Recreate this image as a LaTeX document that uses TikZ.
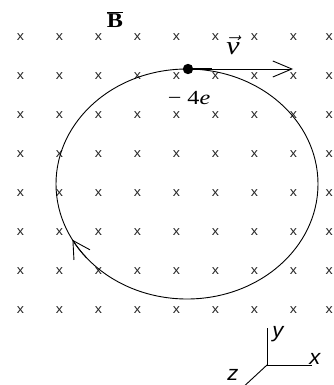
\documentclass[tikz,border=0pt]{standalone}
\usepackage{fontspec}
\setmainfont{Liberation Serif}
\newfontfamily\sansf{Liberation Sans}
\usetikzlibrary{arrows.meta,calc}
\tikzset{
  xmark/.style={inner sep=0pt, text=black!85, font=\sansf\fontsize{13}{14}\selectfont, xscale=1.1, transform shape},
  lbl/.style={inner sep=0pt, xscale=1.15, transform shape},
  axlbl/.style={inner sep=0pt, font=\sansf\itshape\fontsize{21}{23}\selectfont, xscale=1.05, transform shape},
  thinline/.style={line width=0.9pt, black}
}
\begin{document}
\begin{tikzpicture}[x=1pt,y=-1pt]
\useasboundingbox (0,0) rectangle (334,385);
% field marks
\foreach \i in {0,...,7}{
  \foreach \j in {0,...,7}{
    \node[xmark] (m\i-\j) at ({20.5+39*\i},{37.5+39*\j}) {x};
  }
}
\foreach \j in {0,...,7}{
  \node[xmark] (m8-\j) at (329.2,{37.5+39*\j}) {x};
}
% orbit
\coordinate (C) at (187,184);
\draw[thinline] (C) ellipse [x radius=131, y radius=115];
\coordinate (A0) at ($(C)+(140:131 and 115)$);
\draw[thinline, -{Straight Barb[length=17pt,width=19pt]}] (A0) arc[start angle=140, end angle=151, x radius=131, y radius=115];
% charge and velocity
\coordinate (Q) at (188,69);
\coordinate (V) at (293,69);
\coordinate (T) at (212,69);
\draw[line width=2pt] (Q) -- (T);
\draw[thinline, -{Straight Barb[length=19pt,width=16pt]}] (Q) -- (V);
\fill (Q) circle (5.2);
% labels
\node[lbl, font=\bfseries\fontsize{21}{23}\selectfont] (B) at (115,20) {$\overline{\mbox{\bfseries B}}$};
\node[lbl, font=\itshape\fontsize{26}{28}\selectfont] (v) at (233,45) {$\vec{\mbox{\itshape v}}$};
\node[lbl, font=\fontsize{20}{22}\selectfont, xscale=1.05] (q) at (189,98.5) {−\hspace{5pt}4\textit{e}};
% axes
\coordinate (O) at (267,365);
\coordinate (Y) at (267,328);
\coordinate (X) at (312,365);
\coordinate (Z) at (240,390);
\draw[thinline] (Y) -- (O) -- (X);
\draw[thinline] (O) -- (Z);
\node[axlbl] (ly) at (278,334) {y};
\node[axlbl] (lx) at (315,359) {x};
\node[axlbl] (lz) at (233,375) {z};
\end{tikzpicture}
\end{document}
